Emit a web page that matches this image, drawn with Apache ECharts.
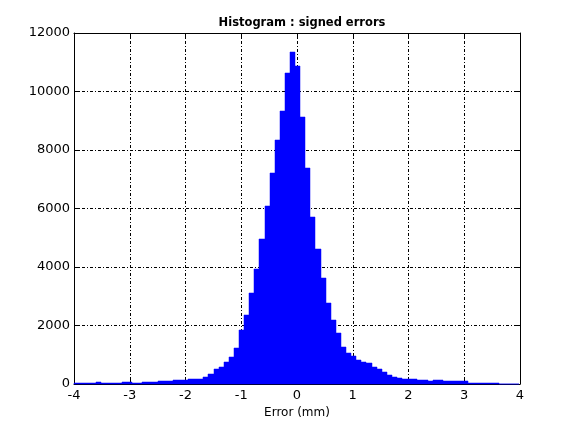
<!DOCTYPE html>
<html>
<head>
<meta charset="utf-8">
<script src="https://cdn.jsdelivr.net/npm/echarts@6/dist/echarts.min.js"></script>
<style>
html,body{margin:0;padding:0;background:#fff;}
#chart{width:576px;height:432px;}
</style>
</head>
<body>
<div id="chart"></div>
<script>
// Histogram bins: first bin left edge and bin width (data units, mm)
var binStart = -4.056;
var binWidth = 0.0914;
// Counts per bin (left to right)
var counts = [
  35, 35, 35, 35, 35, 65, 35, 35, 35, 35,
  65, 65, 35, 35, 65, 65, 65, 110, 110, 110,
  150, 150, 150, 185, 185, 185, 225, 326, 497, 566,
  737, 908, 1217, 1834, 2345, 3110, 3936, 4954, 6096, 7217,
  8358, 9342, 10645, 11341, 10885, 9134, 7398, 5718, 4611, 3627,
  2760, 2177, 1731, 1251, 1046, 943, 806, 737, 703, 566,
  497, 394, 291, 223, 189, 154, 154, 154, 120, 120,
  86, 120, 120, 86, 86, 86, 86, 86, 35, 35,
  35, 35, 35, 35, 15, 15, 15, 15
];
var xTicks = [-4, -3, -2, -1, 0, 1, 2, 3, 4];
var yTicks = [0, 2000, 4000, 6000, 8000, 10000, 12000];
var titleText = 'Histogram : signed errors';
var xLabel = 'Error (mm)';

var data = counts.map(function (c, i) {
  return [binStart + i * binWidth, binStart + (i + 1) * binWidth, c];
});

var chart = echarts.init(document.getElementById('chart'), null, {renderer: 'canvas'});
var font = 'DejaVu Sans';
var gridDash = [3, 2, 1, 2];

function renderItem(params, api) {
  var p0 = api.coord([api.value(0), api.value(2)]);
  var p1 = api.coord([api.value(1), 0]);
  var x0 = Math.round(p0[0]), x1 = Math.round(p1[0]);
  var y0 = Math.round(p0[1]), y1 = p1[1];
  var cs = params.coordSys;
  var shape = echarts.graphic.clipRectByRect(
    {x: x0, y: y0, width: x1 - x0, height: y1 - y0},
    {x: cs.x, y: cs.y, width: cs.width, height: cs.height}
  );
  return shape && {type: 'rect', shape: shape, style: {fill: '#0000ff', stroke: '#0000ff', lineWidth: 0.5}};
}

var axisCommon = {
  axisLine: {show: true, onZero: false, lineStyle: {color: '#000', width: 1}},
  axisTick: {show: true, inside: true, length: 5, lineStyle: {color: '#000'}}
};

chart.setOption({
  animation: false,
  backgroundColor: '#fff',
  title: {
    text: titleText,
    left: 297, top: 12, textAlign: 'center',
    textStyle: {fontFamily: font, fontSize: 11.5, fontWeight: 'bold', color: '#000'}
  },
  grid: {left: 74, right: 56, top: 33, bottom: 48, containLabel: false},
  xAxis: [
    Object.assign({
      type: 'value', min: xTicks[0], max: xTicks[xTicks.length - 1], interval: 1,
      position: 'bottom',
      name: xLabel, nameLocation: 'middle', nameGap: 19,
      nameTextStyle: {fontFamily: font, fontSize: 12, color: '#000'},
      axisLabel: {fontFamily: font, fontSize: 13, color: '#000', margin: 5,
        formatter: function (v) { return String(v); }},
      splitLine: {show: true, lineStyle: {color: '#000', type: gridDash, width: 1}}
    }, axisCommon),
    Object.assign({
      type: 'value', min: xTicks[0], max: xTicks[xTicks.length - 1], interval: 1,
      position: 'top',
      axisLabel: {show: false},
      splitLine: {show: false}
    }, axisCommon)
  ],
  yAxis: [
    Object.assign({
      type: 'value', min: yTicks[0], max: yTicks[yTicks.length - 1], interval: 2000,
      position: 'left',
      axisLabel: {fontFamily: font, fontSize: 13, color: '#000', margin: 4,
        formatter: function (v) { return String(v); }},
      splitLine: {show: true, lineStyle: {color: '#000', type: gridDash, width: 1}}
    }, axisCommon),
    Object.assign({
      type: 'value', min: yTicks[0], max: yTicks[yTicks.length - 1], interval: 2000,
      position: 'right',
      axisLabel: {show: false},
      splitLine: {show: false}
    }, axisCommon)
  ],
  series: [{
    type: 'custom',
    xAxisIndex: 0, yAxisIndex: 0,
    renderItem: renderItem,
    encode: {x: [0, 1], y: 2},
    data: data,
    z: 1
  }]
});
</script>
</body>
</html>
